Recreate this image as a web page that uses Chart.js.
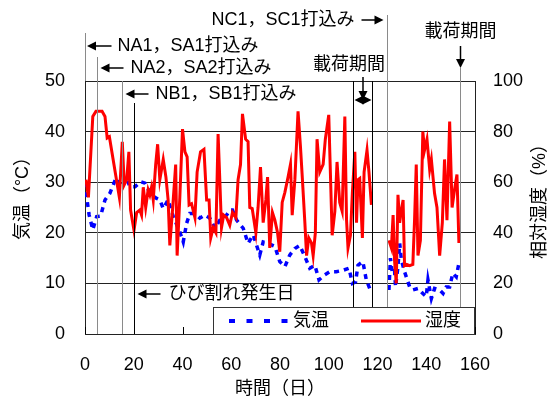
<!DOCTYPE html>
<html>
<head>
<meta charset="utf-8">
<script src="https://cdn.jsdelivr.net/npm/chart.js@4/dist/chart.umd.min.js"></script>
<style>
  html, body { margin: 0; padding: 0; background: #fff; }
</style>
</head>
<body>
<canvas id="chart" width="552" height="400"></canvas>
<script>
// 気温 (left axis, °C)
const tempDays = [0.3, 0.7, 1.7, 3.2, 4.8, 6.4, 8.2, 10.2, 12.7, 15, 17.1, 18.4, 20.5, 22.8, 24.6, 26, 27.3, 29.4, 30.7, 32.1,
  34.1, 36.2, 38.9, 40.3, 41.7, 43, 45.1, 47.1, 49.2, 51.2, 53.3, 55.3, 58.1, 59.4, 60.5, 62.2, 64.9, 66.9, 69, 71.7,
  73.1, 75.1, 77.9, 79.9, 82, 84, 86.1, 88.1, 90.2, 92.2, 94.3, 96, 98.4, 100.4, 103.1, 105.9, 108.3, 109.7, 111, 112,
  114, 115.4, 116.8, 121,
  124.7, 125.3, 126.1, 127, 127.4, 128.4, 129.1, 129.8, 131.1, 133.2, 134.5, 136.6, 138.6, 140, 140.7, 142.1, 143.4, 145.5,
  146.9, 148.2, 149.6, 150.9, 152.3, 153.4];
const tempVals = [30, 27, 23.5, 20.6, 23.2, 23.3, 26.5, 27.8, 30.8, 29.1, 30.8, 29.1, 29.1, 30.1, 29.8, 28.5, 27.5, 26.8, 26.5, 24.8,
  26.5, 23.2, 20.2, 18.2, 21.9, 23.8, 23.8, 22.9, 23.5, 22.9, 20.9, 22.5, 23.5, 24.5, 24.5, 22.5, 20.9, 17.9, 19.6, 15.6,
  18.2, 17.9, 17.3, 14.3, 13.3, 15.6, 16.9, 17.5, 15.3, 13, 13.6, 10.7, 11.7, 12.3, 12.3, 12.6, 13, 10, 10.3, 13.6,
  14.3, 10.7, 9, null,
  8.7, 15, 12, 12.5, 9.3, 13.3, 17.9, 14.6, 12.3, 9.3, 8.7, 9, 8, 7.4, 10.7, 7, 9, 8.7,
  8, 9.3, 9.3, 12, 11.3, 14];

// 湿度 (right axis, %)
const humDays = [0.4, 1.4, 3.2, 4.5, 5.7, 7, 8.2, 9.1, 10, 14.1, 15.3, 16.1, 17.1, 18, 18.7, 20.1, 21.2, 22.5, 23.2, 23.9,
  24.9, 25.9, 26.6, 27.3, 28, 29, 29.8, 30.7, 32.1, 33.2, 34.1, 34.8, 35.9, 37.2, 37.8, 38.9, 40, 41, 41.9, 42.7,
  43.7, 45.1, 46, 47.4, 48.8, 49.9, 50.9, 51.6, 52.6, 53.7, 54.6, 55.3, 56, 56.9, 58.1, 59.4, 60.5, 61.9, 62.8, 63.8,
  64.6, 65.9, 66.9, 67.6, 68.6, 70.1, 71, 72, 73.1, 74.2, 74.9, 75.8, 76.9, 77.9, 79, 79.9, 80.9, 82, 83.3, 84.3,
  85, 86.1, 87.4, 88.4, 89.2, 90.2, 90.9, 91.8, 92.9, 93.6, 94.5, 95.2, 96.3, 97.7, 98.6, 100, 101.4, 102.5, 103.4, 104.5,
  105.5, 106.6, 107.3, 107.9, 108.9, 109.7, 110.7, 111.4, 112, 112.7, 113.8, 114.5, 115.7, 116.5, 117.5, 121,
  124.7, 125.7, 126.4, 127, 127.7, 128.4, 129.1, 129.8, 130.5, 131.1, 132, 133.2, 134.5, 135.2, 135.9, 136.6, 137.6, 138.6,
  139.3, 140.3, 141.4, 142.1, 143.4, 144.4, 145.5, 146.6, 147.5, 148.5, 149.6, 150.6, 151.6, 152.6, 153.4];
const humVals = [61, 54, 86, 88, 88, 88, 86, 77.5, 78, 54, 76, 59, 61, 72, 49, 41, 48, 49, 47, 58,
  50, 57, 55, 58, 53, 67, 75, 61, 69, 62, 53, 35, 49, 67, 31, 54, 81, 72, 70, 51,
  51.5, 46, 64, 72, 73, 53, 53, 38, 42, 40, 79, 61, 42, 47, 46, 43, 48, 46, 61, 67,
  87, 77, 76, 50, 49.6, 40, 50, 66, 44, 53, 62, 34, 48, 45, 40, 32.5, 52, 56, 62, 67,
  47, 61, 88, 74, 61, 44, 31, 38, 36, 31, 40, 77, 64, 67, 77, 86.6, 39, 48.5, 68, 52,
  48.5, 86, 45, 34, 39, 56, 72, 44, 61, 61.5, 38, 64, 72.7, 64, 51, null,
  37, 34, 47, 29, 20, 55, 44, 49, 53, 27, 27.5, 27, 27.5, 45, 67, 31, 37, 80,
  72.7, 77, 65, 69, 55.6, 50, 31, 44, 69, 45, 84, 50, 57, 63, 36];

const seriesNames = ['気温', '湿度'];
const xTicks = [0, 20, 40, 60, 80, 100, 120, 140, 160];

const FONT = '"Liberation Sans", "Noto Sans CJK JP", sans-serif';
Chart.defaults.font.family = FONT;
Chart.defaults.font.size = 18;
Chart.defaults.color = '#000';

function head(ctx, x, y, dir) {
  ctx.beginPath();
  if (dir === 'l') { ctx.moveTo(x, y); ctx.lineTo(x + 9, y - 4.5); ctx.lineTo(x + 9, y + 4.5); }
  if (dir === 'r') { ctx.moveTo(x, y); ctx.lineTo(x - 9, y - 4.5); ctx.lineTo(x - 9, y + 4.5); }
  if (dir === 'd') { ctx.moveTo(x, y); ctx.lineTo(x - 4.5, y - 9); ctx.lineTo(x + 4.5, y - 9); }
  ctx.closePath();
  ctx.fill();
}

function seg(ctx, x1, y1, x2, y2, color, w) {
  ctx.strokeStyle = color;
  ctx.lineWidth = w || 1;
  ctx.beginPath();
  ctx.moveTo(x1, y1);
  ctx.lineTo(x2, y2);
  ctx.stroke();
}

const annotate = {
  id: 'annotate',
  afterDraw(chart) {
    const { ctx, chartArea: a, scales: { x } } = chart;
    const px = d => Math.round(x.getPixelForValue(d)) + 0.5;
    const gray = '#8a8a8a';
    ctx.save();
    ctx.fillStyle = '#000';
    ctx.textBaseline = 'middle';
    ctx.font = '18px ' + FONT;

    // inward x ticks
    xTicks.forEach(t => seg(ctx, px(t), a.bottom, px(t), a.bottom - 7, '#000'));

    // NA1, SA1 (day 0)
    seg(ctx, px(0), 33, px(0), a.top, gray);
    seg(ctx, px(0) + 8, 46, px(0) + 26, 46, '#000', 1.5);
    head(ctx, px(0) + 1.5, 46, 'l');
    ctx.textAlign = 'left';
    ctx.fillText('NA1，SA1打込み', px(0) + 32, 46);

    // NA2, SA2 (day 5)
    seg(ctx, px(5), 57, px(5), a.bottom, gray);
    seg(ctx, px(5) + 8, 68, px(5) + 26, 68, '#000', 1.5);
    head(ctx, px(5) + 3, 68, 'l');
    ctx.fillText('NA2，SA2打込み', px(5) + 33, 68);

    // NB1, SB1 (day 15)
    seg(ctx, px(15), a.top, px(15), a.bottom, gray);
    seg(ctx, px(15) + 10, 94, px(15) + 26, 94, '#000', 1.5);
    head(ctx, px(15) + 3, 94, 'l');
    ctx.fillText('NB1，SB1打込み', px(15) + 33, 94);

    // crack day (day 20)
    seg(ctx, px(20), 103, px(20), a.bottom, '#000');
    seg(ctx, px(20) + 10, 294, px(20) + 26, 294, '#000', 1.5);
    head(ctx, px(20) + 3, 294, 'l');
    ctx.fillText('ひび割れ発生日', px(20) + 34, 294);

    // loading period 1
    seg(ctx, px(109.8), a.top, px(109.8), a.bottom, '#000');
    seg(ctx, px(117.7), a.top, px(117.7), a.bottom, '#000');
    const mid = (px(109.8) + px(117.7)) / 2;
    seg(ctx, px(109.8) + 4, 100, px(117.7) - 4, 100, '#000', 1.5);
    head(ctx, px(109.8) + 1, 100, 'l');
    head(ctx, px(117.7) - 1, 100, 'r');
    seg(ctx, mid, 77, mid, 96, '#000', 1.5);
    head(ctx, mid, 100, 'd');
    ctx.textAlign = 'center';
    ctx.fillText('載荷期間', 349, 65);

    // NC1, SC1 (day 124)
    seg(ctx, px(124), 15, px(124), a.bottom, gray);
    seg(ctx, px(124) - 26, 20, px(124) - 8, 20, '#000', 1.5);
    head(ctx, px(124) - 4, 20, 'r');
    ctx.textAlign = 'right';
    ctx.fillText('NC1，SC1打込み', px(124) - 33, 20);

    // loading period 2
    seg(ctx, px(154), 46, px(154), 60, '#000', 1.5);
    head(ctx, px(154), 68, 'd');
    seg(ctx, px(154), 68, px(154), a.bottom, gray);
    ctx.textAlign = 'center';
    ctx.fillText('載荷期間', px(154), 32);

    // legend box
    const ds = chart.data.datasets;
    ctx.fillStyle = '#fff';
    ctx.fillRect(213, 307, 261, 27);
    ctx.strokeStyle = '#333';
    ctx.lineWidth = 1;
    ctx.strokeRect(213.5, 307.5, 261, 27);
    ctx.strokeStyle = ds[0].borderColor;
    ctx.lineWidth = 4;
    ctx.setLineDash([6, 11.5]);
    ctx.beginPath(); ctx.moveTo(229, 321); ctx.lineTo(290, 321); ctx.stroke();
    ctx.setLineDash([]);
    ctx.strokeStyle = ds[1].borderColor;
    ctx.lineWidth = 3;
    ctx.beginPath(); ctx.moveTo(361, 321); ctx.lineTo(421, 321); ctx.stroke();
    ctx.fillStyle = '#000';
    ctx.textAlign = 'left';
    ctx.fillText(ds[0].label, 293, 321);
    ctx.fillText(ds[1].label, 425, 321);

    // vertical axis titles (read bottom-to-top on both sides)
    ctx.textAlign = 'center';
    ctx.save();
    ctx.translate(23, 194);
    ctx.rotate(-Math.PI / 2);
    ctx.fillText('気温（°C）', 0, 0);
    ctx.restore();
    ctx.save();
    ctx.translate(540, 197);
    ctx.rotate(-Math.PI / 2);
    ctx.fillText('相対湿度（%）', 0, 0);
    ctx.restore();

    ctx.restore();
  }
};

const toPoints = (days, vals) => days.map((d, i) => ({ x: d, y: vals[i] }));

new Chart(document.getElementById('chart'), {
  type: 'line',
  data: {
    datasets: [
      {
        label: seriesNames[0],
        data: toPoints(tempDays, tempVals),
        yAxisID: 'y',
        borderColor: '#0000ff',
        borderWidth: 3.5,
        borderDash: [5, 5],
        pointRadius: 0,
        tension: 0,
        spanGaps: false,
        order: 2
      },
      {
        label: seriesNames[1],
        data: toPoints(humDays, humVals),
        yAxisID: 'y1',
        borderColor: '#ff0000',
        borderWidth: 3,
        pointRadius: 0,
        tension: 0,
        spanGaps: false,
        order: 1
      }
    ]
  },
  options: {
    responsive: false,
    animation: false,
    layout: { padding: { top: 81, left: 0, right: 0, bottom: 0 } },
    plugins: { legend: { display: false }, tooltip: { enabled: false } },
    scales: {
      x: {
        type: 'linear',
        min: 0,
        max: 160,
        afterBuildTicks: s => { s.ticks = xTicks.map(v => ({ value: v })); },
        ticks: { padding: 20, maxRotation: 0 },
        grid: { drawOnChartArea: false, drawTicks: false },
        border: { color: '#222', width: 1 },
        title: { display: true, text: '時間（日）', padding: { top: 0, bottom: 0 } },
        afterFit: s => { s.height = 66; }
      },
      y: {
        position: 'left',
        min: 0,
        max: 50,
        ticks: { stepSize: 10, padding: 20 },
        grid: { color: '#222', drawTicks: false },
        border: { color: '#222' },
        afterFit: s => { s.width = 85; }
      },
      y1: {
        position: 'right',
        min: 0,
        max: 100,
        ticks: { stepSize: 20, padding: 18 },
        grid: { drawOnChartArea: false, drawTicks: false },
        border: { color: '#222' },
        afterFit: s => { s.width = 77; }
      }
    }
  },
  plugins: [annotate]
});
</script>
</body>
</html>
